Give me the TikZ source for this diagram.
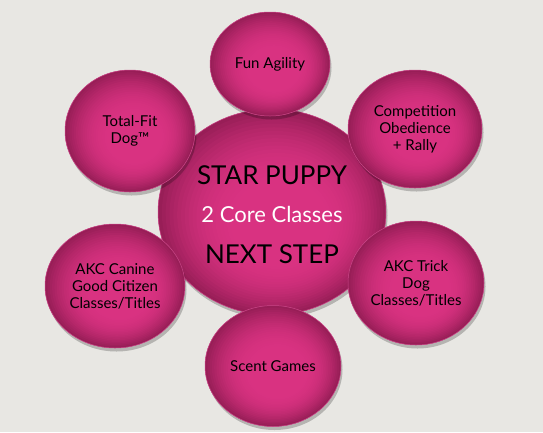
\documentclass[tikz,border=0pt]{standalone}
\usepackage{fontspec}
\setmainfont{Lato}
\usetikzlibrary{positioning, shapes.geometric, shadows}
\definecolor{colorBack}{RGB}{232,231,227}
\definecolor{colorPinkCenter}{RGB}{217,50,129}
\definecolor{colorPinkEdge}{RGB}{152,30,87}
\definecolor{colorRim}{RGB}{205,72,138}

\begin{document}
\begin{tikzpicture}[
    x=1pt, y=-1pt,
    ball/.style={ellipse, fill=colorPinkEdge, draw=colorRim, line width=0.5pt, inner sep=0pt,
                 align=center, drop shadow={shadow xshift=1.5pt, shadow yshift=-3.5pt,
                 fill=black, opacity=0.22},
                 path picture={
                   \pgfpointdiff{\pgfpointanchor{path picture bounding box}{center}}%
                                {\pgfpointanchor{path picture bounding box}{north east}}
                   \pgfgetlastxy{\rx}{\ry}
                   \foreach \k in {0,...,20} {
                     \pgfmathsetmacro{\fr}{1-\k*0.03}
                     \pgfmathsetmacro{\mx}{100*(1-((\fr-0.4)/0.6)^2)}
                     \fill[colorPinkCenter!\mx!colorPinkEdge]
                       ([xshift={(1-\fr)*0.12*\rx}, yshift={-(1-\fr)*0.18*\ry}]path picture bounding box.center)
                       ellipse [x radius={\fr*\rx}, y radius={\fr*\ry}];
                   }
                 }},
    hub/.style={ball, minimum width=228pt, minimum height=206pt},
    sat/.style={ball, font=\fontsize{15}{17}\selectfont},
    bigtext/.style={anchor=base, font=\fontsize{26}{30}\selectfont}
]

% Background
\fill[colorBack] (0,0) rectangle (543,432);
\useasboundingbox (0,0) rectangle (543,432);

% Center node
\node[hub] (Hub) at (272,212) {};
\node[bigtext] (StarPuppy) at (272,184) {STAR PUPPY};
\node[anchor=base, text=white, font=\fontsize{22}{26}\selectfont] (CoreClasses) at (272,222) {2 Core Classes};
\node[bigtext] (NextStep) at (272,263) {NEXT STEP};

% Satellite nodes
\node[sat, minimum width=120pt, minimum height=104pt] (Agility) at (270,64) {Fun Agility};
\node[sat, minimum width=134pt, minimum height=118pt] (Obedience) at (415,129) {Competition\\Obedience\\+ Rally};
\node[sat, minimum width=130pt, minimum height=122pt] (TotalFit) at (130,131) {Total-Fit\\Dog™};
\node[sat, minimum width=140pt, minimum height=124pt] (Canine) at (115,286) {AKC Canine\\Good Citizen\\Classes/Titles};
\node[sat, minimum width=136pt, minimum height=124pt] (Trick) at (416,283) {AKC Trick\\Dog\\Classes/Titles};
\node[sat, minimum width=136pt, minimum height=121pt] (Scent) at (273,366) {Scent Games};

\end{tikzpicture}
\end{document}
